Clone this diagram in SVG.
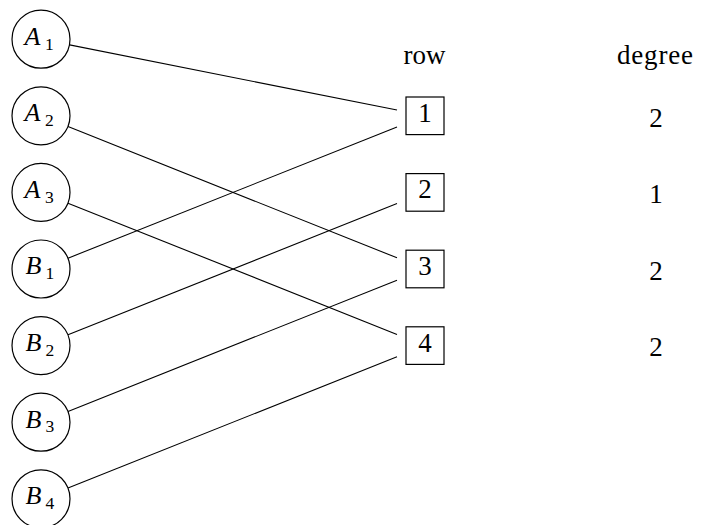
<svg xmlns="http://www.w3.org/2000/svg" width="704" height="525" viewBox="0 0 704 525">
<style>
.c{fill:#fff;stroke:#000;stroke-width:1.2}
.b{fill:#fff;stroke:#000;stroke-width:1.2}
text{font-family:"Liberation Serif","Times New Roman",serif;font-size:27px;fill:#000}
.l{font-size:26px}
.v{font-style:italic}
.s{font-size:17.5px}
.m{text-anchor:middle}
#edges line{stroke:#000;stroke-width:1.1}
</style>
<rect width="704" height="525" fill="#fff"/>
<g id="edges">
<line x1="69.6" y1="44.9" x2="397" y2="110"/>
<line x1="68" y1="126.6" x2="397" y2="257.8"/>
<line x1="68" y1="203.2" x2="397" y2="334.4"/>
<line x1="68" y1="258.2" x2="397" y2="127"/>
<line x1="68" y1="334.8" x2="397" y2="203.6"/>
<line x1="68" y1="411.4" x2="397" y2="280.2"/>
<line x1="68" y1="488" x2="397" y2="356.8"/>
</g>
<g id="A1"><circle class="c" cx="41" cy="39.2" r="29"/><text class="l" x="24.5" y="44.8"><tspan class="v">A</tspan><tspan class="s" dx="4.5" dy="4.8">1</tspan></text></g>
<g id="A2"><circle class="c" cx="41" cy="115.8" r="29"/><text class="l" x="24.5" y="121.4"><tspan class="v">A</tspan><tspan class="s" dx="4.5" dy="4.8">2</tspan></text></g>
<g id="A3"><circle class="c" cx="41" cy="192.4" r="29"/><text class="l" x="24.5" y="198"><tspan class="v">A</tspan><tspan class="s" dx="4.5" dy="4.8">3</tspan></text></g>
<g id="B1"><circle class="c" cx="41" cy="269" r="29"/><text class="l" x="25.5" y="274.4"><tspan class="v">B</tspan><tspan class="s" dx="4" dy="4.8">1</tspan></text></g>
<g id="B2"><circle class="c" cx="41" cy="345.6" r="29"/><text class="l" x="25.5" y="351"><tspan class="v">B</tspan><tspan class="s" dx="4" dy="4.8">2</tspan></text></g>
<g id="B3"><circle class="c" cx="41" cy="422.2" r="29"/><text class="l" x="25.5" y="427.6"><tspan class="v">B</tspan><tspan class="s" dx="4" dy="4.8">3</tspan></text></g>
<g id="B4"><circle class="c" cx="41" cy="498.8" r="29"/><text class="l" x="25.5" y="504.2"><tspan class="v">B</tspan><tspan class="s" dx="4" dy="4.8">4</tspan></text></g>
<g id="row"><text class="m" x="424.5" y="63.5">row</text></g>
<g id="degree"><text class="m" x="655" y="63.5" textLength="76" lengthAdjust="spacing">degree</text></g>
<g id="r1"><rect class="b" x="406" y="97" width="38" height="37.6"/><text class="m" x="425" y="121.8">1</text></g>
<g id="r2"><rect class="b" x="406" y="173.6" width="38" height="37.6"/><text class="m" x="425" y="198.4">2</text></g>
<g id="r3"><rect class="b" x="406" y="250.2" width="38" height="37.6"/><text class="m" x="425" y="275">3</text></g>
<g id="r4"><rect class="b" x="406" y="326.8" width="38" height="37.6"/><text class="m" x="425" y="351.6">4</text></g>
<g id="d1"><text class="m" x="656" y="126.5">2</text></g>
<g id="d2"><text class="m" x="656" y="203.2">1</text></g>
<g id="d3"><text class="m" x="656" y="279.8">2</text></g>
<g id="d4"><text class="m" x="656" y="356.4">2</text></g>
</svg>
